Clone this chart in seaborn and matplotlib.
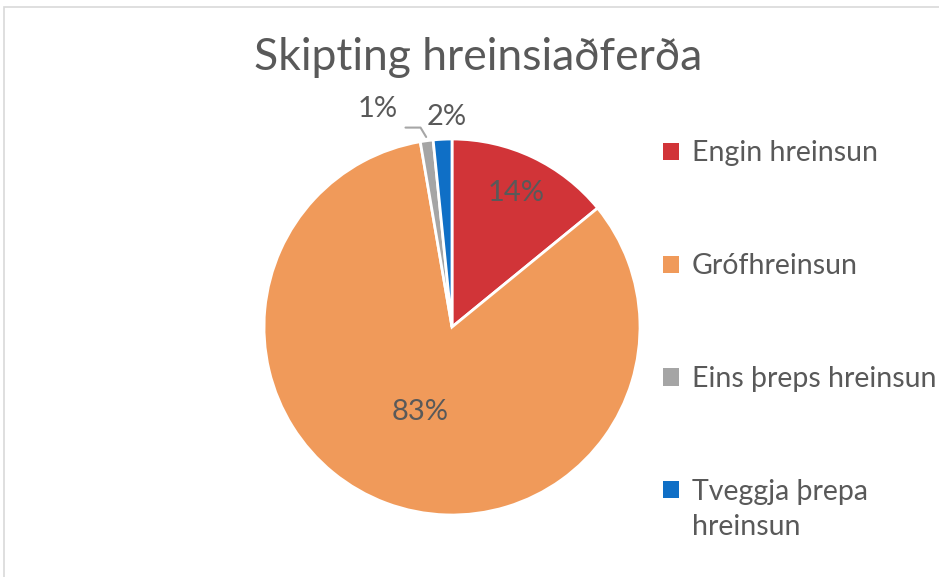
import numpy as np
import matplotlib.pyplot as plt
import seaborn as sns
from matplotlib.patches import Rectangle, Patch

sns.set_theme(style="white")
plt.rcParams['font.family'] = ['Lato', 'DejaVu Sans']

categories = ["Engin hreinsun", "Grófhreinsun", "Eins þreps hreinsun", "Tveggja þrepa hreinsun"]
shares = [14.1, 83.2, 1.1, 1.6]
colors = ["#D13438", "#F09A5A", "#A5A5A5", "#0F6FC6"]
label_dist = [0.79, 0.48, 1.17, 1.12]

txt = "#595959"

fig = plt.figure(figsize=(9.39, 5.77), dpi=100)
fig.patches.append(Rectangle((4 / 939, -0.1), 1.2, 570 / 577 + 0.1, transform=fig.transFigure,
                             fill=False, edgecolor="#D9D9D9", linewidth=1.2))

ax = fig.add_axes([264 / 939, 62 / 577, 376 / 939, 376 / 577])
wedges, _ = ax.pie(shares, colors=colors, startangle=90, counterclock=False,
                   wedgeprops=dict(edgecolor="white", linewidth=2))
ax.set_xlim(-1, 1)
ax.set_ylim(-1, 1)
ax.set_aspect("equal")
ax.axis("off")

for i, (w, v, d) in enumerate(zip(wedges, shares, label_dist)):
    mid = np.deg2rad((w.theta1 + w.theta2) / 2)
    x, y = d * np.cos(mid), d * np.sin(mid)
    if i == 2:
        x -= 0.24
    elif i == 3:
        x += 0.03
    ax.text(x, y, f"{round(v)}%", ha="center", va="center", fontsize=21, color=txt)

# leader line for the small grey slice
g = wedges[2]
gm = np.deg2rad((g.theta1 + g.theta2) / 2)
p0 = (1.02 * np.cos(gm), 1.02 * np.sin(gm))
ax.plot([p0[0], p0[0] - 0.03, p0[0] - 0.11], [p0[1], p0[1] + 0.05, p0[1] + 0.05],
        color="#A6A6A6", linewidth=1.5, clip_on=False)

fig.text(478 / 939, 1 - 58 / 577, "Skipting hreinsiaðferða", ha="center", va="center",
         fontsize=32, color=txt)

# legend: last label wraps in the original, first line stays next to the marker
first, rest = categories[3].rsplit(" ", 1)
leg_labels = categories[:3] + [first]
handles = [Patch(facecolor=c, edgecolor="none") for c in colors]
leg = fig.legend(handles, leg_labels, loc="upper left", bbox_to_anchor=(652 / 939, 1 - 129 / 577),
                 frameon=False, fontsize=20.5, labelcolor=txt, handlelength=0.55, handleheight=0.55,
                 handletextpad=0.45, labelspacing=3.05, borderaxespad=0)

fig.canvas.draw()
last = leg.get_texts()[3]
bb = last.get_window_extent().transformed(fig.transFigure.inverted())
fig.text(bb.x0, bb.y0 - 35 / 577, rest, ha="left", va="bottom", fontsize=20.5, color=txt)

fig.savefig("out.png", dpi=100)
